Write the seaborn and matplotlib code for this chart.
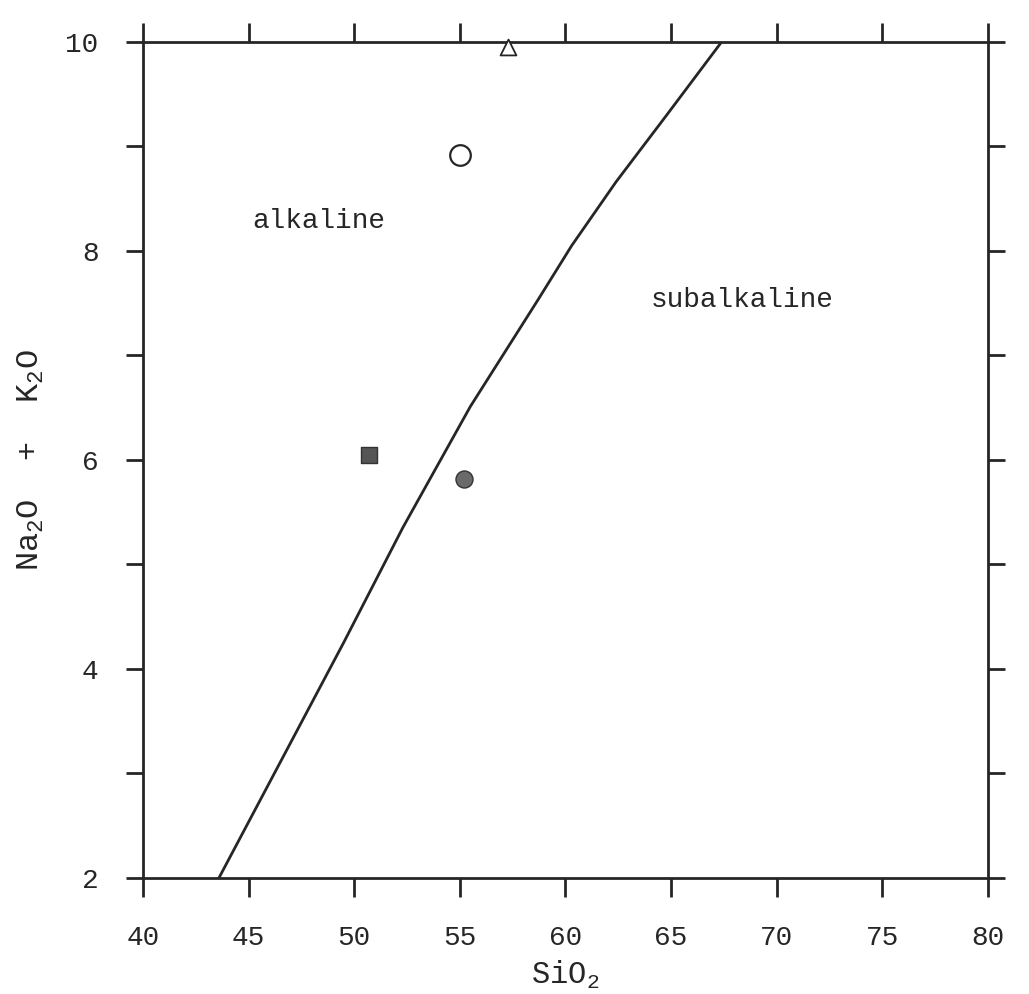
import numpy as np
import pandas as pd
import matplotlib as mpl
from matplotlib import pyplot as plt
from matplotlib.ticker import MultipleLocator, FuncFormatter
import seaborn as sns

sns.set_theme(style="ticks")
plt.rcParams['font.family'] = ['Liberation Mono', 'DejaVu Sans Mono']
plt.rcParams['mathtext.fontset'] = 'custom'
plt.rcParams['mathtext.rm'] = 'Liberation Mono'
plt.rcParams['mathtext.it'] = 'Liberation Mono'

# alkaline / subalkaline dividing curve
si_curve = [43.6, 49.5, 52.3, 55.5, 58.7, 60.3, 62.4, 64.8, 67.4]
alk_curve = [2.0, 4.25, 5.35, 6.51, 7.53, 8.05, 8.66, 9.3, 10.0]

# samples
sample_si = [57.3, 55.0, 50.7, 55.2]
sample_alk = [9.95, 8.92, 6.05, 5.82]
sample_kind = ["triangle", "open circle", "square", "circle"]

x_ticks = [40, 45, 50, 55, 60, 65, 70, 75, 80]
y_labels = [2, 4, 6, 8, 10]

ink = "#262626"

fig = plt.figure(figsize=(10.29, 9.94), dpi=100)
ax = fig.add_axes([0.139, 0.117, 0.821, 0.841])

curve = pd.DataFrame({"SiO2": si_curve, "alk": alk_curve})
sns.lineplot(data=curve, x="SiO2", y="alk", sort=False, color=ink, lw=2.0, ax=ax)

pts = pd.DataFrame({"SiO2": sample_si, "alk": sample_alk, "kind": sample_kind})
styles = {
    "triangle": dict(marker="^", s=130, facecolor="white", edgecolor=ink, linewidth=1.3),
    "open circle": dict(marker="o", s=220, facecolor="white", edgecolor=ink, linewidth=1.6),
    "square": dict(marker="s", s=120, facecolor="#555555", edgecolor="#333333", linewidth=1.0),
    "circle": dict(marker="o", s=150, facecolor="#6a6a6a", edgecolor="#333333", linewidth=1.0),
}
for kind, st in styles.items():
    sub = pts[pts["kind"] == kind]
    sns.scatterplot(data=sub, x="SiO2", y="alk", ax=ax, zorder=5, clip_on=False, **st)

ax.set_xlim(40, 80)
ax.set_ylim(2, 10)

ax.text(48.3, 8.28, "alkaline", fontsize=20, color=ink, ha="center", va="center")
ax.text(68.35, 7.53, "subalkaline", fontsize=20, color=ink, ha="center", va="center")

ax.set_xticks(x_ticks)
ax.set_xticklabels([str(v) for v in x_ticks])
ax.yaxis.set_major_locator(MultipleLocator(1))
ax.yaxis.set_major_formatter(FuncFormatter(lambda v, p: f"{int(v)}" if int(round(v)) in y_labels else ""))

ax.tick_params(axis="both", which="major", direction="out", color=ink, width=2.0,
               labelsize=20, labelcolor=ink)
ax.tick_params(axis="x", length=14, pad=20, top=True, bottom=True)
ax.tick_params(axis="y", length=12, pad=20, left=True, right=True, labelright=False)

for side in ["left", "right", "top", "bottom"]:
    ax.spines[side].set_visible(True)
    ax.spines[side].set_color(ink)
    ax.spines[side].set_linewidth(2.0)

ax.set_xlabel("SiO$_2$", fontsize=22, color=ink, labelpad=6)
ax.set_ylabel("Na$_2$O  +  K$_2$O", fontsize=23, color=ink, labelpad=14)
ax.grid(False)

fig.savefig("out.png", dpi=100, facecolor="white")
